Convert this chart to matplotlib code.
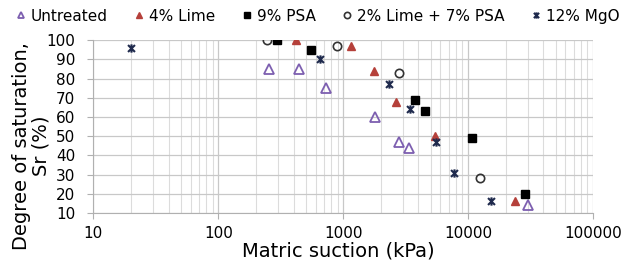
import matplotlib
matplotlib.use("Agg")
import matplotlib.pyplot as plt
from matplotlib.path import Path
from matplotlib.ticker import NullFormatter, LogLocator

# Data (matric suction kPa, degree of saturation %)
untreated_x = [253, 440, 733, 1778, 2790, 3370, 29900]
untreated_y = [85, 85, 75, 60, 47, 44, 14]
lime4_x = [419, 1143, 1758, 2640, 5410, 23500]
lime4_y = [100, 97, 84, 68, 50, 16]
psa9_x = [294, 548, 3740, 4530, 10720, 28700]
psa9_y = [100, 95, 69, 63, 49, 20]
limepsa_x = [245, 891, 2800, 12400]
limepsa_y = [100, 97, 83, 28]
mgo_x = [20, 652, 2330, 3410, 5500, 7640, 15100]
mgo_y = [96, 90, 77, 64, 47, 31, 16]

labels = ["Untreated", "4% Lime", "9% PSA", "2% Lime + 7% PSA", "12% MgO"]
yticks = [10, 20, 30, 40, 50, 60, 70, 80, 90, 100]
xticks = [10, 100, 1000, 10000, 100000]

star = Path([(-1, -1), (1, 1), (-1, 1), (1, -1), (0, -1.2), (0, 1.2)],
            [Path.MOVETO, Path.LINETO, Path.MOVETO, Path.LINETO, Path.MOVETO, Path.LINETO])

fig = plt.figure(figsize=(6.27, 2.62), dpi=100)
ax = fig.add_axes([0.149, 0.187, 0.797, 0.66])

ax.plot(untreated_x, untreated_y, ls="none", marker="^", ms=6.5, mfc="none",
        mec="#7d5fb0", mew=1.3, label=labels[0])
ax.plot(lime4_x, lime4_y, ls="none", marker="^", ms=6, color="#b5403a",
        label=labels[1])
ax.plot(psa9_x, psa9_y, ls="none", marker="s", ms=6, color="black",
        label=labels[2])
ax.plot(limepsa_x, limepsa_y, ls="none", marker="o", ms=6, mfc="none",
        mec="#333333", mew=1.2, label=labels[3])
ax.plot(mgo_x, mgo_y, ls="none", marker=star, ms=6, mfc="none",
        mec="#1f2a4d", mew=1.5, label=labels[4])

ax.set_xscale("log")
ax.set_xlim(10, 100000)
ax.set_ylim(10, 100)
ax.set_yticks(yticks)
ax.set_xticks(xticks)
ax.set_xticklabels([str(v) for v in xticks])
ax.xaxis.set_minor_locator(LogLocator(base=10, subs=range(2, 10)))
ax.xaxis.set_minor_formatter(NullFormatter())
ax.grid(True, which="major", color="#c8c8c8", lw=0.9)
ax.grid(True, which="minor", axis="x", color="#dcdcdc", lw=0.8)
ax.set_axisbelow(True)

for s in ["top", "right"]:
    ax.spines[s].set_visible(False)
for s in ["left", "bottom"]:
    ax.spines[s].set_color("#b0b0b0")
ax.tick_params(axis="both", which="major", labelsize=11, length=4, color="#b0b0b0")
ax.tick_params(axis="y", pad=9)
ax.tick_params(axis="x", pad=5)
ax.tick_params(axis="x", which="minor", length=0)

ax.set_xlabel("Matric suction (kPa)", fontsize=14)
ax.xaxis.set_label_coords(0.49, -0.162)
ax.set_ylabel("Degree of saturation,\nSr (%)", fontsize=14, linespacing=1.0)
ax.yaxis.set_label_coords(-0.086, 0.39)

leg = fig.legend(loc="upper center", bbox_to_anchor=(0.507, 1.02), ncol=5, frameon=False,
                 fontsize=11, handlelength=0.6, handletextpad=0.35, columnspacing=1.75,
                 markerscale=0.75)

fig.savefig("out.png", dpi=100)
